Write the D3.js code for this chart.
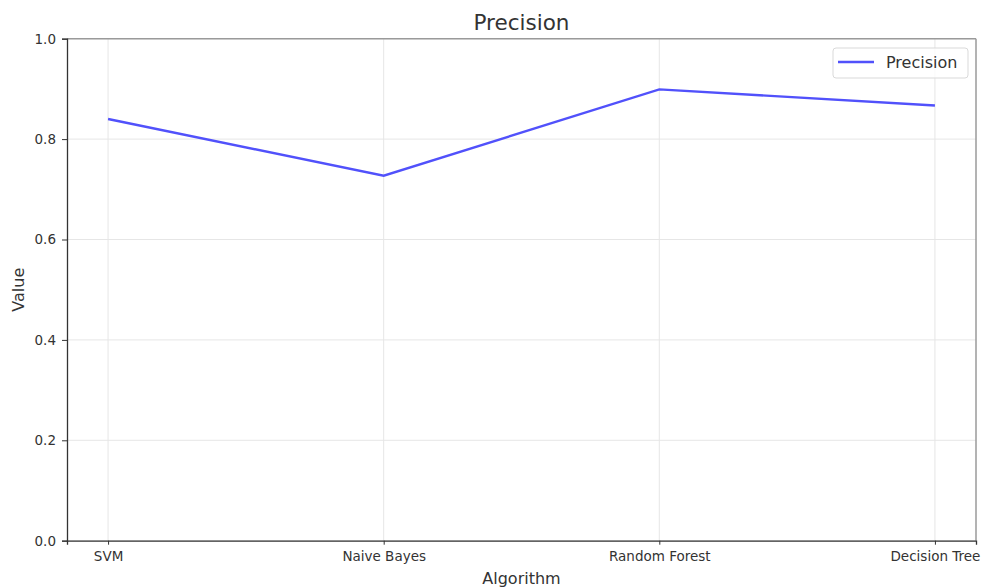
<!DOCTYPE html>
<html><head><meta charset="utf-8">
<script src="https://cdn.jsdelivr.net/npm/d3@7"></script>
<style>body{margin:0;background:#fff}svg{display:block}text{font-family:"DejaVu Sans",sans-serif;fill:#333}</style>
</head><body><svg id="c" width="982" height="588"></svg>
<script>
const categories = ["SVM", "Naive Bayes", "Random Forest", "Decision Tree"];
const precision = [0.840, 0.727, 0.899, 0.867];
const yTicks = [0.0, 0.2, 0.4, 0.6, 0.8, 1.0];
const seriesName = "Precision";

const svg = d3.select("#c");
const m = {l: 67, r: 976, t: 38.7, b: 540.7};
const x = d3.scalePoint().domain(categories).range([m.l, m.r]).padding(0.149);
const y = d3.scaleLinear().domain([0, 1]).range([m.b, m.t]);

// grid
svg.append("g").selectAll("line").data(yTicks).join("line")
  .attr("x1", m.l).attr("x2", m.r).attr("y1", d => y(d)).attr("y2", d => y(d))
  .attr("stroke", "#e6e6e6").attr("stroke-width", 1);
svg.append("g").selectAll("line").data(categories).join("line")
  .attr("x1", d => x(d)).attr("x2", d => x(d)).attr("y1", m.t).attr("y2", m.b)
  .attr("stroke", "#e6e6e6").attr("stroke-width", 1);

// spines
svg.append("line").attr("x1", m.l).attr("x2", m.r).attr("y1", m.t).attr("y2", m.t).attr("stroke", "#9a9a9a").attr("stroke-width", 1.5);
svg.append("line").attr("x1", m.r).attr("x2", m.r).attr("y1", m.t).attr("y2", m.b).attr("stroke", "#9a9a9a").attr("stroke-width", 1.5);

// axes
const xa = svg.append("g").attr("transform", `translate(0,${m.b})`)
  .call(d3.axisBottom(x).tickSize(4).tickPadding(6.5));
const ya = svg.append("g").attr("transform", `translate(${m.l},0)`)
  .call(d3.axisLeft(y).tickValues(yTicks).tickFormat(d3.format(".1f")).tickSize(5).tickPadding(6));
[xa, ya].forEach(a => {
  a.select(".domain").attr("stroke", "#333").attr("stroke-width", 1.3);
  a.selectAll(".tick line").attr("stroke", "#333");
  a.selectAll("text").attr("font-family", "DejaVu Sans, sans-serif").attr("font-size", 13.5).attr("fill", "#333");
});

// line
svg.append("path").datum(precision)
  .attr("fill", "none").attr("stroke", "#5151fb").attr("stroke-width", 2.4)
  .attr("d", d3.line().x((d, i) => x(categories[i])).y(d => y(d)));

// title & labels
svg.append("text").attr("x", (m.l + m.r) / 2).attr("y", 29.5).attr("text-anchor", "middle").attr("font-size", 21.5).text("Precision");
svg.append("text").attr("x", (m.l + m.r) / 2).attr("y", 584).attr("text-anchor", "middle").attr("font-size", 16).text("Algorithm");
svg.append("text").attr("transform", `translate(24,${(m.t + m.b) / 2}) rotate(-90)`).attr("text-anchor", "middle").attr("font-size", 16).text("Value");

// legend
const lg = svg.append("g");
lg.append("rect").attr("x", 833).attr("y", 48).attr("width", 135).attr("height", 30).attr("rx", 3)
  .attr("fill", "#fff").attr("fill-opacity", 0.8).attr("stroke", "#d9d9d9");
lg.append("line").attr("x1", 838).attr("x2", 874).attr("y1", 62).attr("y2", 62).attr("stroke", "#5151fb").attr("stroke-width", 2.4);
lg.append("text").attr("x", 886).attr("y", 68).attr("font-size", 16).text(seriesName);
</script></body></html>
